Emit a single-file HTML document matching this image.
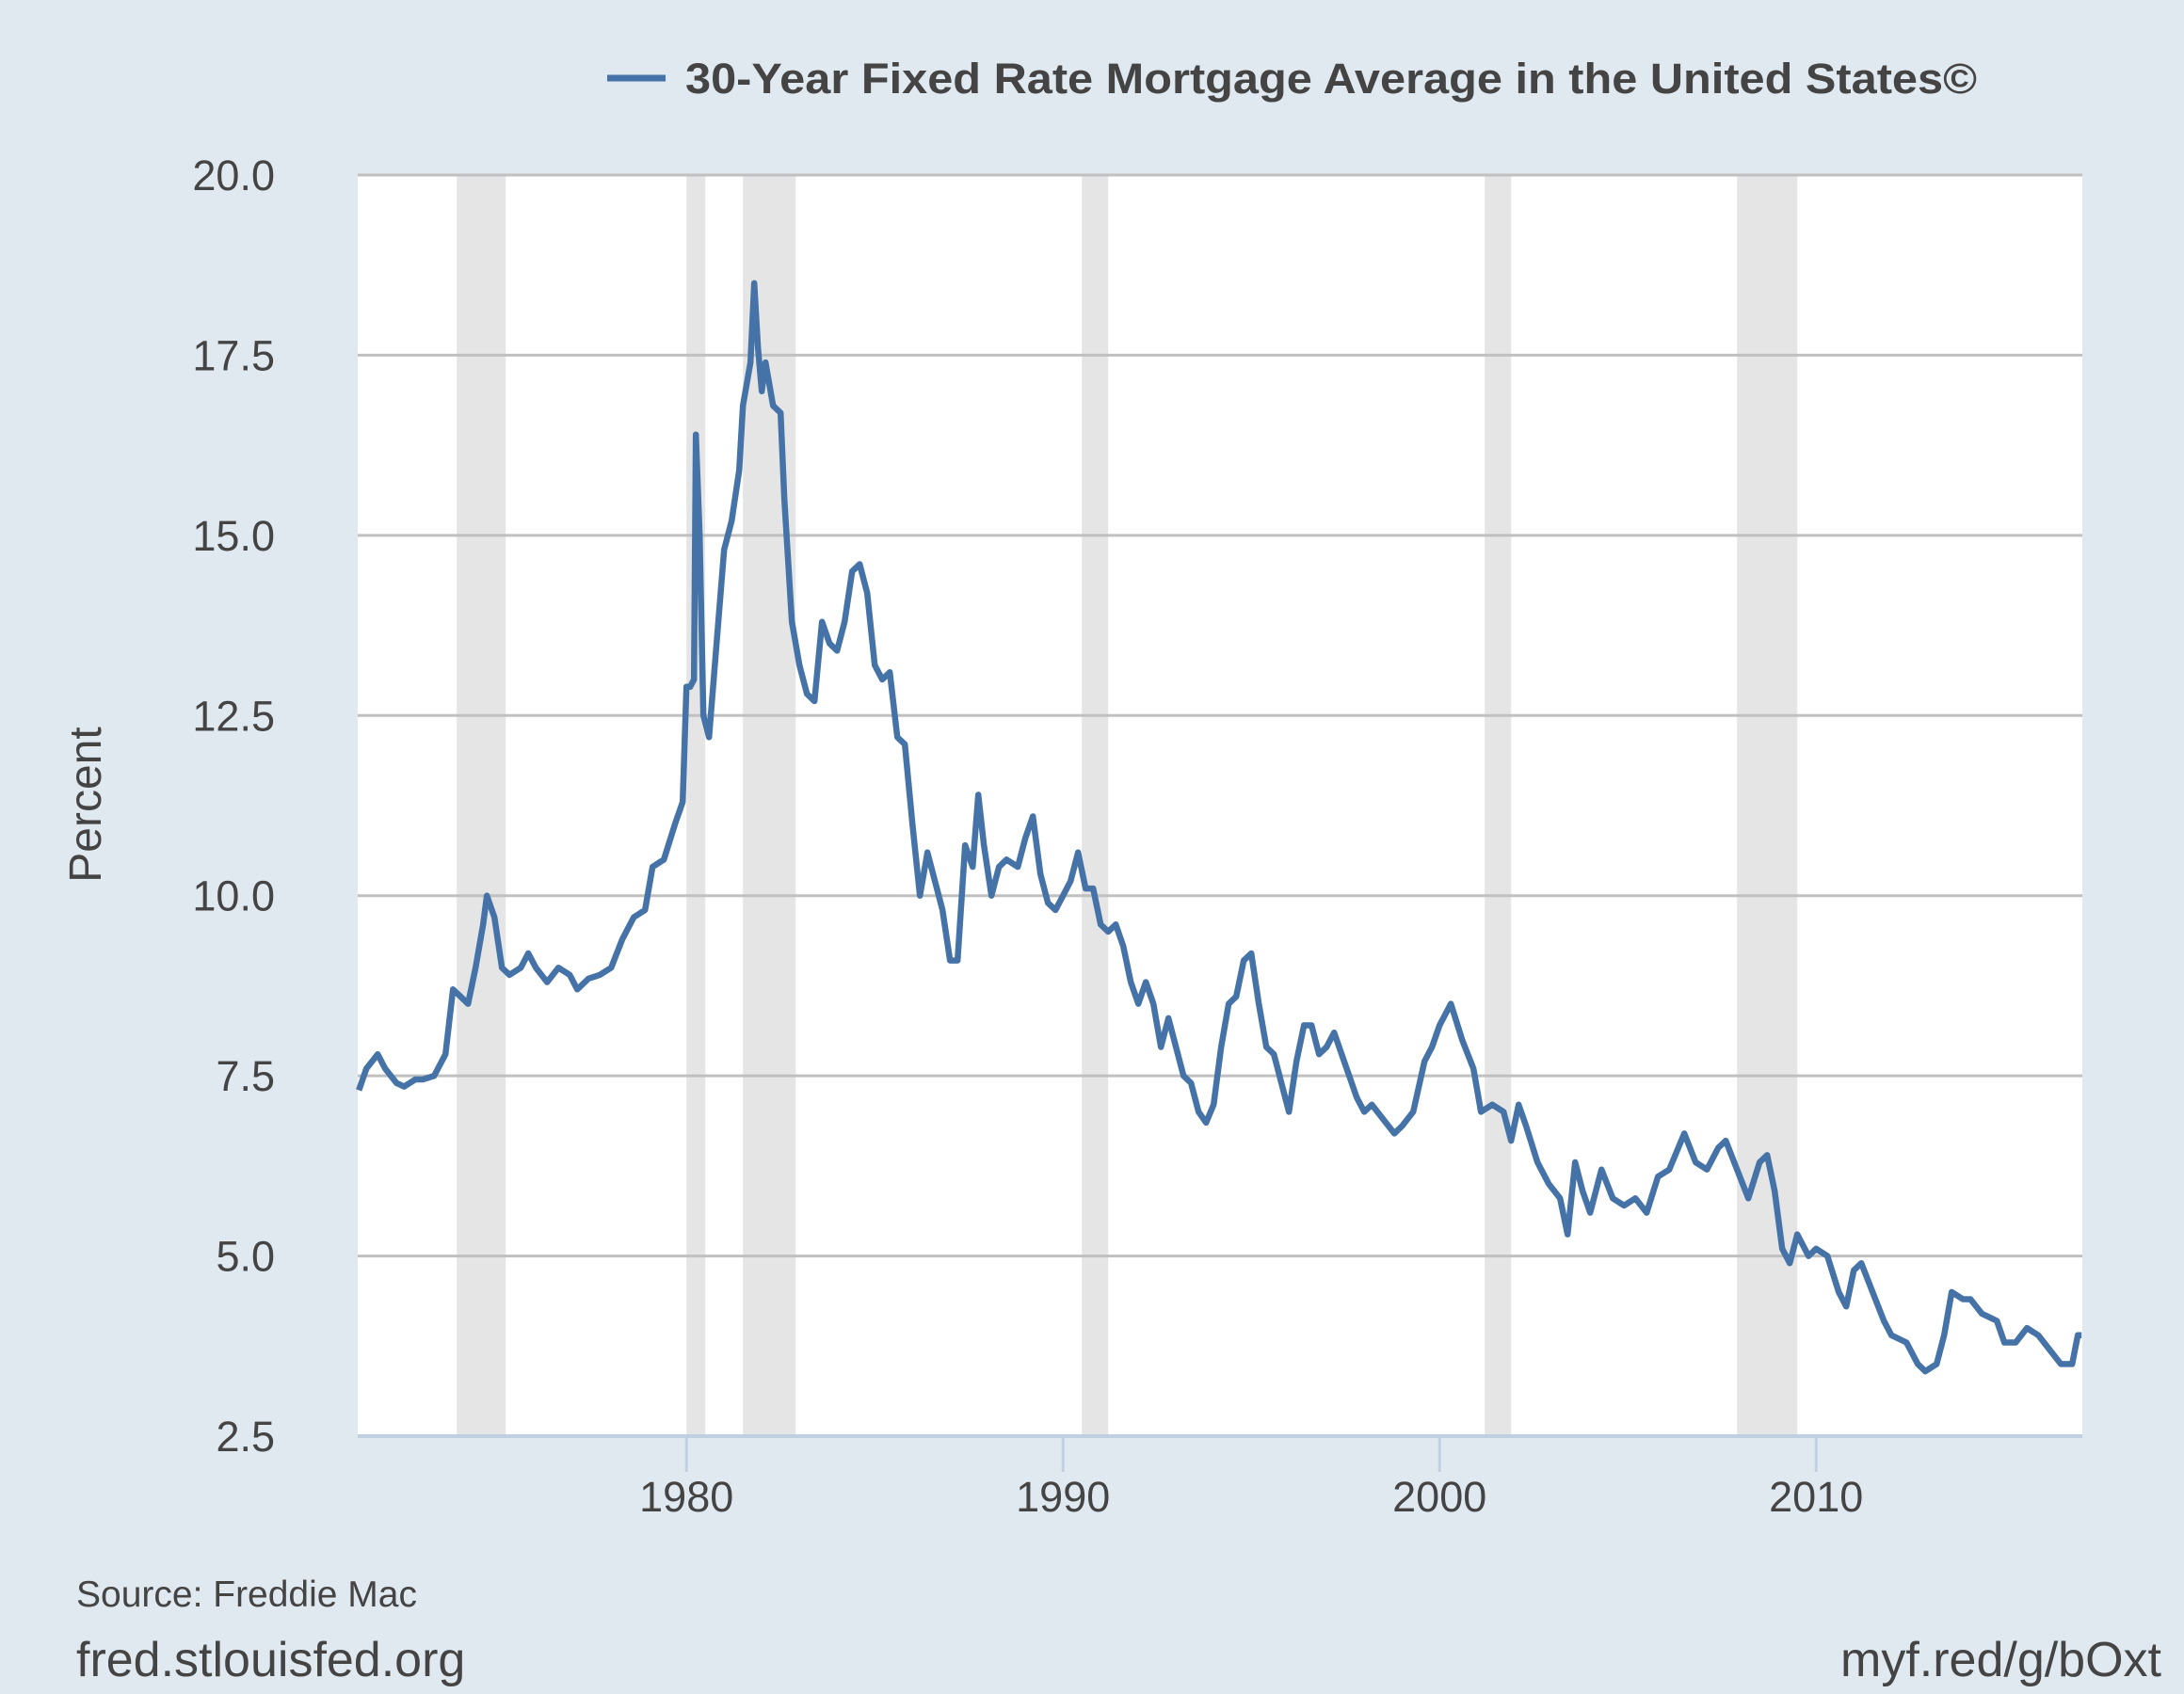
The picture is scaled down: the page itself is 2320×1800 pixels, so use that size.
<!DOCTYPE html>
<html><head><meta charset="utf-8"><style>
html,body{margin:0;padding:0;background:#e1e9f0;}
svg{display:block;font-family:"Liberation Sans",sans-serif;}
</style></head><body>
<svg id="chart" width="2320" height="1800" viewBox="0 0 2320 1800">
<rect x="0" y="0" width="2320" height="1800" fill="#e1e9f0"/>
<rect x="380" y="186" width="1832" height="1340" fill="#ffffff"/>
<g id="rec"></g><g id="grid"></g><g id="axes"></g><g id="series"></g>
<g>
<line x1="645" y1="83" x2="707" y2="83" stroke="#4572a7" stroke-width="7"/>
<text x="728" y="99" font-size="45" font-weight="bold" fill="#444" textLength="1372" lengthAdjust="spacingAndGlyphs">30-Year Fixed Rate Mortgage Average in the United States©</text>
</g>
<text transform="translate(107,855) rotate(-90)" text-anchor="middle" font-size="48" fill="#444">Percent</text>
<text x="81" y="1707" font-size="39" fill="#444">Source: Freddie Mac</text>
<text x="81" y="1781" font-size="52" fill="#444">fred.stlouisfed.org</text>
<text x="2296" y="1781" text-anchor="end" font-size="52" fill="#444">myf.red/g/bOxt</text>
</svg>
<script>
const yTicks=[2.5,5.0,7.5,10.0,12.5,15.0,17.5,20.0];
const xTicks=[1980,1990,2000,2010];
const recStart=[1973.9,1980.0,1981.5,1990.5,2001.2,2007.9];
const recEnd=[1975.2,1980.5,1982.9,1991.2,2001.9,2009.5];
const years=[1971.3,1971.5,1971.8,1972.0,1972.3,1972.5,1972.8,1973.0,1973.3,1973.6,1973.8,1974.0,1974.2,1974.4,1974.6,1974.7,1974.9,1975.1,1975.3,1975.6,1975.8,1976.0,1976.3,1976.6,1976.9,1977.1,1977.4,1977.7,1978.0,1978.3,1978.6,1978.9,1979.1,1979.4,1979.7,1979.9,1980.0,1980.1,1980.2,1980.25,1980.35,1980.45,1980.6,1980.8,1981.0,1981.2,1981.4,1981.5,1981.7,1981.8,1981.9,1982.0,1982.1,1982.3,1982.5,1982.6,1982.8,1983.0,1983.2,1983.4,1983.6,1983.8,1984.0,1984.2,1984.4,1984.6,1984.8,1985.0,1985.2,1985.4,1985.6,1985.8,1986.0,1986.2,1986.4,1986.6,1986.8,1987.0,1987.2,1987.4,1987.6,1987.75,1987.9,1988.1,1988.3,1988.5,1988.8,1989.0,1989.2,1989.4,1989.6,1989.8,1990.0,1990.2,1990.4,1990.6,1990.8,1991.0,1991.2,1991.4,1991.6,1991.8,1992.0,1992.2,1992.4,1992.6,1992.8,1993.0,1993.2,1993.4,1993.6,1993.8,1994.0,1994.2,1994.4,1994.6,1994.8,1995.0,1995.2,1995.4,1995.6,1995.8,1996.0,1996.2,1996.4,1996.6,1996.8,1997.0,1997.2,1997.4,1997.6,1997.8,1998.0,1998.2,1998.5,1998.8,1999.0,1999.3,1999.6,1999.8,2000.0,2000.3,2000.6,2000.9,2001.1,2001.4,2001.7,2001.9,2002.1,2002.3,2002.6,2002.9,2003.2,2003.4,2003.6,2003.8,2004.0,2004.3,2004.6,2004.9,2005.2,2005.5,2005.8,2006.1,2006.5,2006.8,2007.1,2007.4,2007.6,2007.9,2008.2,2008.5,2008.7,2008.9,2009.1,2009.3,2009.5,2009.8,2010.0,2010.3,2010.6,2010.8,2011.0,2011.2,2011.5,2011.8,2012.0,2012.4,2012.7,2012.9,2013.2,2013.4,2013.6,2013.9,2014.1,2014.4,2014.8,2015.0,2015.3,2015.6,2015.9,2016.2,2016.5,2016.8,2016.95,2017.05];
const rates=[7.3,7.6,7.8,7.6,7.4,7.35,7.45,7.45,7.5,7.8,8.7,8.6,8.5,9.0,9.6,10.0,9.7,9.0,8.9,9.0,9.2,9.0,8.8,9.0,8.9,8.7,8.85,8.9,9.0,9.4,9.7,9.8,10.4,10.5,11.0,11.3,12.9,12.9,13.0,16.4,15.0,12.5,12.2,13.5,14.8,15.2,15.9,16.8,17.4,18.5,17.6,17.0,17.4,16.8,16.7,15.5,13.8,13.2,12.8,12.7,13.8,13.5,13.4,13.8,14.5,14.6,14.2,13.2,13.0,13.1,12.2,12.1,11.0,10.0,10.6,10.2,9.8,9.1,9.1,10.7,10.4,11.4,10.7,10.0,10.4,10.5,10.4,10.8,11.1,10.3,9.9,9.8,10.0,10.2,10.6,10.1,10.1,9.6,9.5,9.6,9.3,8.8,8.5,8.8,8.5,7.9,8.3,7.9,7.5,7.4,7.0,6.85,7.1,7.9,8.5,8.6,9.1,9.2,8.5,7.9,7.8,7.4,7.0,7.7,8.2,8.2,7.8,7.9,8.1,7.8,7.5,7.2,7.0,7.1,6.9,6.7,6.8,7.0,7.7,7.9,8.2,8.5,8.0,7.6,7.0,7.1,7.0,6.6,7.1,6.8,6.3,6.0,5.8,5.3,6.3,5.9,5.6,6.2,5.8,5.7,5.8,5.6,6.1,6.2,6.7,6.3,6.2,6.5,6.6,6.2,5.8,6.3,6.4,5.9,5.1,4.9,5.3,5.0,5.1,5.0,4.5,4.3,4.8,4.9,4.5,4.1,3.9,3.8,3.5,3.4,3.5,3.9,4.5,4.4,4.4,4.2,4.1,3.8,3.8,4.0,3.9,3.7,3.5,3.5,3.9,3.9];
const L=380,R=2212,T=186,B=1526,X0=1971.27,X1=2017.07,Y0=2.5,Y1=20;
const xs=v=>L+(v-X0)/(X1-X0)*(R-L);
const ys=v=>B-(v-Y0)/(Y1-Y0)*(B-T);
const NS='http://www.w3.org/2000/svg';
function mk(tag,attrs,parent,txt){const e=document.createElementNS(NS,tag);for(const k in attrs)e.setAttribute(k,attrs[k]);if(txt!==undefined)e.textContent=txt;document.getElementById(parent).appendChild(e);return e;}
recStart.forEach((s,i)=>{
 const r=mk('rect',{x:xs(s),y:T,width:xs(recEnd[i])-xs(s),height:B-T,fill:'#e5e5e5'},'rec');
 
 
});
yTicks.forEach(v=>{
 if(v>Y0){const g=mk('line',{x1:L,x2:R,y1:ys(v),y2:ys(v),stroke:'#c0c0c0','stroke-width':3},'grid');
 
 }
 const t=mk('text',{x:292,y:ys(v)+16,'text-anchor':'end','font-size':45,fill:'#444'},'axes',v.toFixed(1));
 
 
});
const ax=mk('line',{x1:L,x2:R,y1:B,y2:B,stroke:'#c0d0e0','stroke-width':4},'axes');


xTicks.forEach(v=>{
 const tk=mk('line',{x1:xs(v),x2:xs(v),y1:B,y2:B+38,stroke:'#c0d0e0','stroke-width':3},'axes');
 
 
 const t=mk('text',{x:xs(v),y:1606,'text-anchor':'middle','font-size':45,fill:'#444'},'axes',String(v));
 
 
});
const d=years.map((y,i)=>(i?'L':'M')+xs(y).toFixed(1)+','+ys(rates[i]).toFixed(1)).join('');
const p=mk('path',{d:d,fill:'none',stroke:'#4572a7','stroke-width':6.5,'stroke-linejoin':'round'},'series');


</script>
</body></html>
